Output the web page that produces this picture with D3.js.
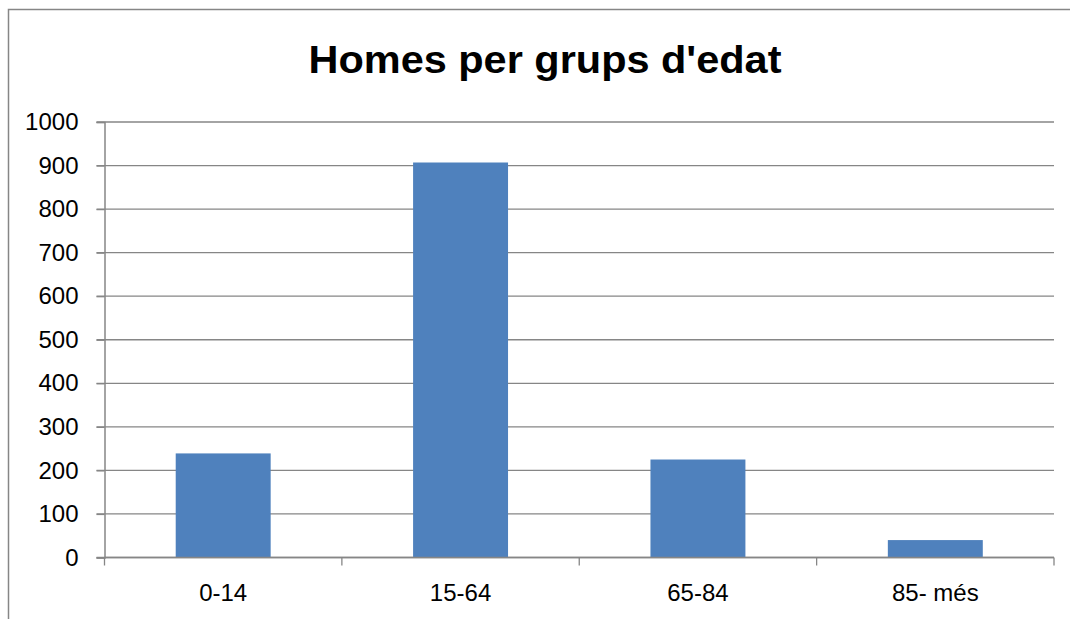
<!DOCTYPE html>
<html lang="ca">
<head>
  <meta charset="UTF-8">
  <title>Homes per grups d'edat</title>
<script src="https://d3js.org/d3.v7.min.js"></script>
<style>
  body { margin: 0; background: #fff; }
  text { font-family: "Liberation Sans", Arial, sans-serif; fill: #000; }
</style>
</head>
<body>
<div id="chart"></div>

  <script>

const categories = ['0-14', '15-64', '65-84', '85- més'];
const values = [239, 907, 225, 40];
const yTicks = [0, 100, 200, 300, 400, 500, 600, 700, 800, 900, 1000];
const title = "Homes per grups d'edat";

const width = 1070;
const height = 619;
const margin = { top: 122, right: 16, bottom: 62, left: 104.5 };

const svg = d3.select('#chart')
  .append('svg')
  .attr('width', width)
  .attr('height', height);

// outer chart frame (only top and left edges fall inside the picture)
svg.append('path')
  .attr('d', `M8.5,${height} V9.5 H${width}`)
  .attr('fill', 'none')
  .attr('stroke', '#868686')
  .attr('stroke-width', 1.5);

const x = d3.scaleBand()
  .domain(categories)
  .range([margin.left, width - margin.right])
  .paddingInner(0.6)
  .paddingOuter(0.3);

const y = d3.scaleLinear()
  .domain([0, 1000])
  .range([height - margin.bottom + 0.5, margin.top]);

// gridlines
svg.append('g')
  .selectAll('line')
  .data(yTicks)
  .enter()
  .append('line')
  .attr('x1', margin.left - 8)
  .attr('x2', width - margin.right)
  .attr('y1', d => y(d))
  .attr('y2', d => y(d))
  .attr('stroke', '#868686')
  .attr('stroke-width', 1.3);

// bars
svg.append('g')
  .selectAll('rect')
  .data(values)
  .enter()
  .append('rect')
  .attr('x', (d, i) => x(categories[i]))
  .attr('width', x.bandwidth())
  .attr('y', d => y(d))
  .attr('height', d => y(0) - y(d))
  .attr('fill', '#4F81BD');

// y axis
const yAxis = svg.append('g')
  .attr('transform', `translate(${margin.left},0)`)
  .call(d3.axisLeft(y).tickValues(yTicks).tickFormat(d3.format('d')).tickSize(8).tickPadding(18));
yAxis.attr('font-family', null).attr('font-size', null);
yAxis.select('.domain').attr('stroke', '#868686').attr('stroke-width', 1.5);
yAxis.selectAll('.tick line').attr('stroke', '#868686').attr('stroke-width', 1.3);
yAxis.selectAll('.tick text').style('font-size', '24px').attr('fill', '#000');

// x axis: ticks at category boundaries
const bounds = d3.range(categories.length + 1).map(i => margin.left + i * (width - margin.right - margin.left) / categories.length);
const xAxis = svg.append('g')
  .attr('transform', `translate(0,${y(0)})`);
xAxis.append('line')
  .attr('x1', margin.left).attr('x2', width - margin.right)
  .attr('stroke', '#868686').attr('stroke-width', 1.5);
xAxis.selectAll('line.tk')
  .data(bounds)
  .enter()
  .append('line')
  .attr('class', 'tk')
  .attr('x1', d => d).attr('x2', d => d)
  .attr('y1', 0).attr('y2', 8)
  .attr('stroke', '#868686').attr('stroke-width', 1.3);
xAxis.selectAll('text')
  .data(categories)
  .enter()
  .append('text')
  .attr('x', d => x(d) + x.bandwidth() / 2)
  .attr('y', 43)
  .attr('text-anchor', 'middle')
  .style('font-size', '24px')
  .text(d => d);

// title
svg.append('text')
  .attr('x', 545)
  .attr('y', 73)
  .attr('text-anchor', 'middle')
  .attr('textLength', 473)
  .attr('lengthAdjust', 'spacingAndGlyphs')
  .style('font-size', '39px')
  .style('font-weight', 'bold')
  .text(title);

  </script>
</body>
</html>
